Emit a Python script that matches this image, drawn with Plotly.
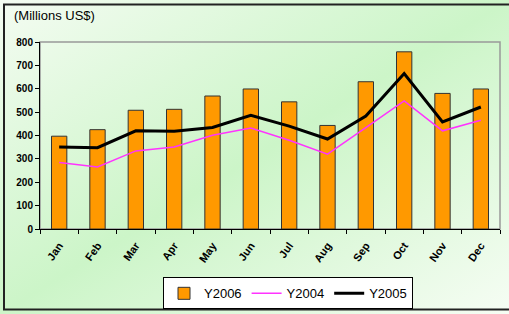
import base64
import plotly.graph_objects as go

months = ["Jan", "Feb", "Mar", "Apr", "May", "Jun", "Jul", "Aug", "Sep", "Oct", "Nov", "Dec"]
y2006 = [397, 425, 508, 512, 569, 599, 544, 443, 630, 758, 580, 599]
y2004 = [284, 265, 334, 351, 401, 432, 380, 320, 434, 548, 420, 465]
y2005 = [351, 348, 420, 418, 434, 486, 440, 385, 483, 665, 458, 522]
y_ticks = [0, 100, 200, 300, 400, 500, 600, 700, 800]

svg = ('<svg xmlns="http://www.w3.org/2000/svg" width="509" height="314">'
       '<defs><linearGradient id="g" x1="0" y1="0" x2="1" y2="1">'
       '<stop offset="0" stop-color="#f4fcf2"/>'
       '<stop offset="0.5" stop-color="#ccf5c8"/>'
       '<stop offset="1" stop-color="#f6fdf4"/>'
       '</linearGradient></defs>'
       '<rect width="509" height="314" fill="url(#g)"/></svg>')
bg_src = "data:image/svg+xml;base64," + base64.b64encode(svg.encode()).decode()

PW, PH = 460.0, 186.7  # plot area size in px

fig = go.Figure()
fig.add_trace(go.Bar(
    x=months, y=y2006, name="Y2006", width=0.4,
    marker=dict(color="#FF9900", line=dict(color="#333333", width=1)),
))
fig.add_trace(go.Scatter(
    x=months, y=y2004, name="Y2004", mode="lines",
    line=dict(color="#FF33FF", width=1.5),
))
fig.add_trace(go.Scatter(
    x=months, y=y2005, name="Y2005", mode="lines",
    line=dict(color="#000000", width=3),
))

fig.update_layout(
    width=509, height=314,
    margin=dict(l=40, r=9, t=42, b=85, autoexpand=False),
    paper_bgcolor="#d4f5d0",
    plot_bgcolor="white",
    font=dict(family="Liberation Sans, Arial, sans-serif", color="black"),
    showlegend=True,
    legend=dict(
        orientation="h", x=(288 - 40) / PW, xanchor="center", y=-(277 - 228.7) / PH, yanchor="top",
        bgcolor="white", bordercolor="black", borderwidth=1,
        font=dict(size=13), itemwidth=30, tracegroupgap=0,
    ),
    images=[dict(source=bg_src, xref="paper", yref="paper", x=-40 / PW, y=1 + 42 / PH,
                 sizex=509 / PW, sizey=314 / PH, xanchor="left", yanchor="top",
                 sizing="stretch", layer="below")],
    shapes=[
        dict(type="rect", xref="paper", yref="paper", x0=0, x1=1, y0=0, y1=1,
             line=dict(color="#999999", width=1.5), fillcolor="rgba(0,0,0,0)", layer="below"),
        dict(type="rect", xref="paper", yref="paper",
             x0=-36 / PW, x1=1 + 14 / PW, y0=-(309 - 228.7) / PH, y1=1 + 37.5 / PH,
             line=dict(color="#222222", width=2), fillcolor="rgba(0,0,0,0)", layer="below"),
    ],
    annotations=[dict(
        text="(Millions US$)", xref="paper", yref="paper",
        x=-28 / PW, y=1 + (42 - 25) / PH, xanchor="left", yanchor="bottom",
        showarrow=False, font=dict(size=13, color="black"),
    )],
)

fig.update_xaxes(
    showline=True, linecolor="black", linewidth=1, automargin=False,
    ticks="outside", ticklen=4, tickcolor="black", tickson="boundaries",
    tickangle=-55, tickfont=dict(size=11), ticklabelstandoff=5,
    tickvals=months, ticktext=[f"<b>{m}</b>" for m in months],
    showgrid=False, zeroline=False,
)
fig.update_yaxes(
    range=[0, 800], tickvals=y_ticks, ticktext=[f"<b>{v}</b>" for v in y_ticks],
    showline=True, linecolor="black", linewidth=1, automargin=False,
    ticks="outside", ticklen=4, tickcolor="black",
    tickfont=dict(size=10), showgrid=False, zeroline=False,
)

fig.write_html("out.html", config={"displayModeBar": False},
               post_script="document.body.style.margin='0';document.body.style.overflow='hidden';")
